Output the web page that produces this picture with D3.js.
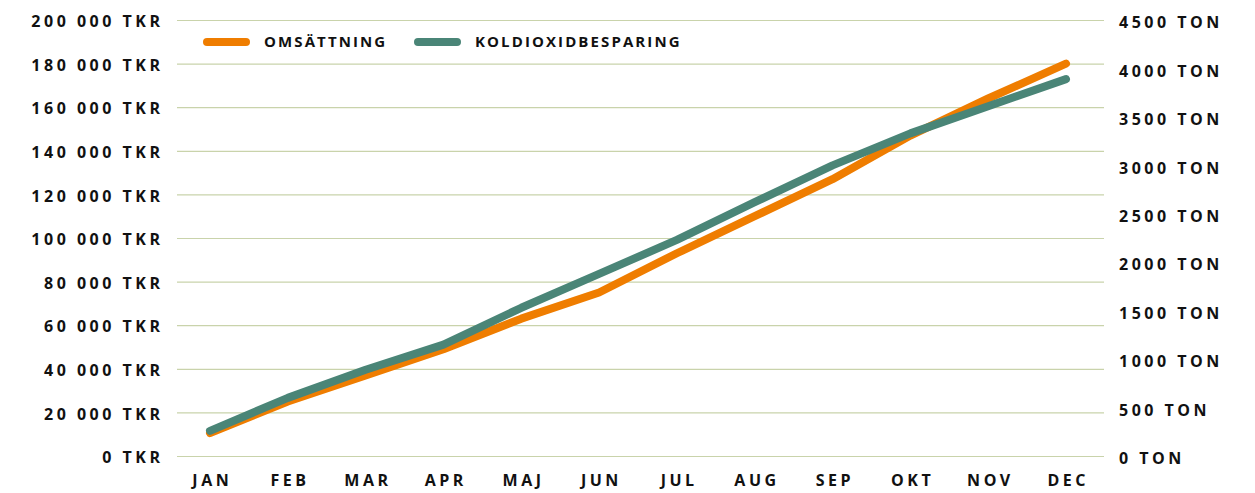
<!DOCTYPE html>
<html>
<head>
<meta charset="utf-8">
<script src="https://cdn.jsdelivr.net/npm/d3@7"></script>
<style>
  body { margin: 0; background: #fff; }
  text { font-family: "Open Sans", sans-serif; font-weight: 700; fill: #111; }
</style>
</head>
<body>
<div id="vis"></div>
<script>
// data
const months = ['JAN','FEB','MAR','APR','MAJ','JUN','JUL','AUG','SEP','OKT','NOV','DEC'];
const omsattning = [10500, 25000, 37000, 49000, 63000, 75000, 93000, 110000, 127000, 147000, 164000, 180000]; // TKR
const koldioxid = [260, 600, 890, 1150, 1530, 1880, 2230, 2620, 3000, 3330, 3610, 3890]; // TON
const leftTicks = [0, 20000, 40000, 60000, 80000, 100000, 120000, 140000, 160000, 180000, 200000];
const rightTicks = [0, 500, 1000, 1500, 2000, 2500, 3000, 3500, 4000, 4500];
const seriesNames = ['OMSÄTTNING', 'KOLDIOXIDBESPARING'];

const W = 1255, H = 493;
const orange = '#ef7d00', green = '#4a8577', grid = '#c9d3ab';
const ls = 3.5; // axis letter spacing

const svg = d3.select('#vis')
    .append('svg')
    .attr('width', W)
    .attr('height', H);

const xScale = d3.scalePoint().domain(months).range([210, 1066]);
const yLeft = d3.scaleLinear().domain([0, 200000]).range([456, 20]);
const yRight = d3.scaleLinear().domain([0, 4500]).range([456, 20]);

const fmt = d => d3.format(',')(d).replace(/,/g, ' ');

// gridlines
svg.append('g')
    .selectAll('line')
    .data(leftTicks)
    .join('line')
    .attr('x1', 177).attr('x2', 1104)
    .attr('y1', d => yLeft(d) + 0.5).attr('y2', d => yLeft(d) + 0.5)
    .attr('stroke', grid)
    .attr('stroke-width', 1.2);

function styleAxis(g, dy) {
    g.select('.domain').remove();
    g.selectAll('text')
        .attr('font-size', 16)
        .attr('dy', dy)
        .attr('font-family', null)
        .style('letter-spacing', ls + 'px');
}

// left axis
const leftAxis = d3.axisLeft(yLeft)
    .tickValues(leftTicks)
    .tickSize(0)
    .tickPadding(0)
    .tickFormat(d => fmt(d) + ' TKR');
svg.append('g')
    .attr('transform', `translate(${160 + ls},1)`)
    .call(leftAxis)
    .call(g => styleAxis(g, '0.36em'));

// right axis
const rightAxis = d3.axisRight(yRight)
    .tickValues(rightTicks)
    .tickSize(0)
    .tickPadding(0)
    .tickFormat(d => d + ' TON');
svg.append('g')
    .attr('transform', 'translate(1119,2)')
    .call(rightAxis)
    .call(g => styleAxis(g, '0.36em'));

// x axis labels
const xAxis = d3.axisBottom(xScale).tickSize(0).tickPadding(0);
svg.append('g')
    .attr('transform', `translate(${ls / 2},475)`)
    .call(xAxis)
    .call(g => styleAxis(g, '0.71em'));

// lines
const lineL = d3.line().x((d, i) => xScale(months[i])).y(d => yLeft(d));
const lineR = d3.line().x((d, i) => xScale(months[i])).y(d => yRight(d));

svg.append('path')
    .datum(omsattning)
    .attr('d', lineL)
    .attr('fill', 'none')
    .attr('stroke', orange)
    .attr('stroke-width', 8)
    .attr('stroke-linecap', 'round')
    .attr('stroke-linejoin', 'round');

svg.append('path')
    .datum(koldioxid)
    .attr('d', lineR)
    .attr('fill', 'none')
    .attr('stroke', green)
    .attr('stroke-width', 8)
    .attr('stroke-linecap', 'round')
    .attr('stroke-linejoin', 'round');

// legend
const legendX = [203, 414];
const legend = svg.append('g');
seriesNames.forEach((name, i) => {
    legend.append('line')
        .attr('x1', legendX[i] + 4).attr('x2', legendX[i] + 43)
        .attr('y1', 42).attr('y2', 42)
        .attr('stroke', i === 0 ? orange : green)
        .attr('stroke-width', 8)
        .attr('stroke-linecap', 'round');
    legend.append('text')
        .attr('x', legendX[i] + 61)
        .attr('y', 42)
        .attr('dy', '0.36em')
        .attr('font-size', 15)
        .style('letter-spacing', '2.1px')
        .text(name);
});
</script>
</body>
</html>
